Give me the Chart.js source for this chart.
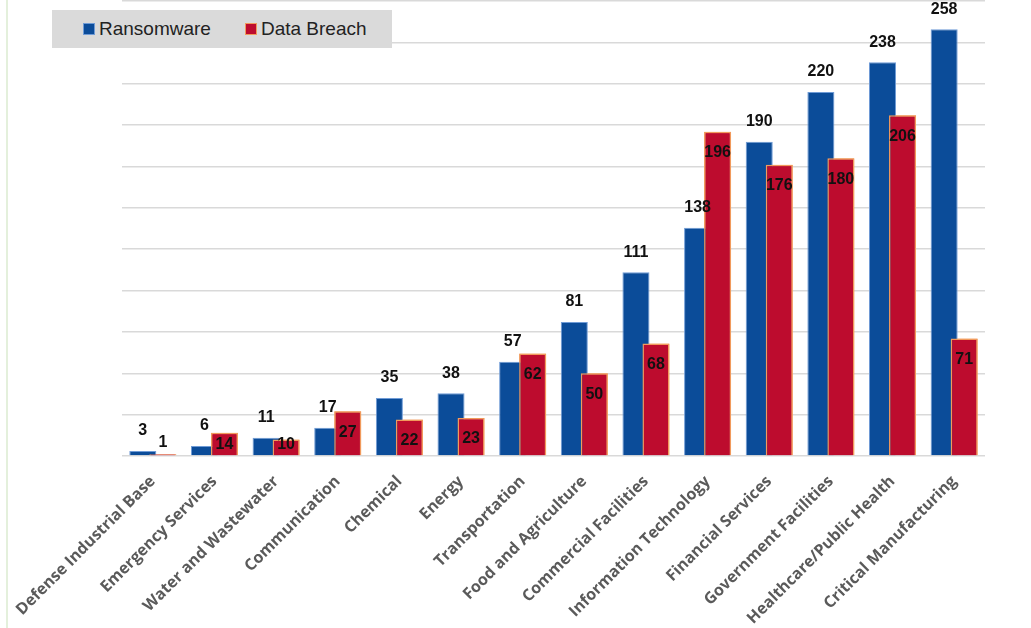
<!DOCTYPE html>
<html>
<head>
<meta charset="utf-8">
<script src="https://cdn.jsdelivr.net/npm/chart.js@4"></script>
<style>
    html, body { margin: 0; padding: 0; background: #ffffff; }
    #wrap { position: relative; width: 1031px; height: 628px; }
    #edge { position: absolute; left: 6px; top: 0; width: 2px; height: 628px; background: #e4f0dc; }
    #legend {
        position: absolute; left: 52px; top: 10px; width: 340px; height: 38px;
        background: #dadada; display: flex; align-items: center;
        font-family: "Liberation Sans", Arial, sans-serif; font-size: 19px; color: #222;
    }
    .item { display: flex; align-items: center; }
    .swatch { width: 12px; height: 12px; margin-right: 4px; box-sizing: border-box; }
</style>
</head>
<body>
<div id="wrap">
    <canvas id="chart" width="1031" height="628"></canvas>
    <div id="edge"></div>
    <div id="legend"></div>
</div>
<script>
// Chart data
const sectors = [
    'Defense Industrial Base', 'Emergency Services', 'Water and Wastewater', 'Communication',
    'Chemical', 'Energy', 'Transportation', 'Food and Agriculture', 'Commercial Facilities',
    'Information Technology', 'Financial Services', 'Government Facilities',
    'Healthcare/Public Health', 'Critical Manufacturing'
];
const ransomware = [3, 6, 11, 17, 35, 38, 57, 81, 111, 138, 190, 220, 238, 258];
const dataBreach = [1, 14, 10, 27, 22, 23, 62, 50, 68, 196, 176, 180, 206, 71];
const yMax = 275;
const yStep = 25;

const seriesStyle = [
    { name: 'Ransomware', fill: '#0b4c99', border: '#6f9bd6' },
    { name: 'Data Breach', fill: '#bd0c2e', border: '#f19a5c' }
];

// Build the HTML legend box
function buildLegend() {
    const legend = document.getElementById('legend');
    seriesStyle.forEach((s, i) => {
        const item = document.createElement('div');
        item.className = 'item';
        item.style.marginLeft = i === 0 ? '31px' : '34px';
        const sw = document.createElement('span');
        sw.className = 'swatch';
        sw.style.background = s.fill;
        sw.style.border = '1px solid ' + s.border;
        const txt = document.createElement('span');
        txt.textContent = s.name;
        item.appendChild(sw);
        item.appendChild(txt);
        legend.appendChild(item);
    });
}

// Red bars overlap the blue ones, so draw them again on top
const redOnTop = {
    id: 'redOnTop',
    afterDatasetsDraw(chart) {
        const meta = chart.getDatasetMeta(1);
        const ctx = chart.ctx;
        ctx.save();
        meta.controller.draw();
        ctx.restore();
    }
};

// Value labels: ransomware above, data breach inside the top end
const valueLabels = {
    id: 'valueLabels',
    afterDatasetsDraw(chart) {
        const ctx = chart.ctx;
        ctx.save();
        ctx.font = 'bold 16px "Liberation Sans", Arial, sans-serif';
        ctx.fillStyle = '#111111';
        ctx.textAlign = 'center';
        ctx.textBaseline = 'middle';
        chart.data.datasets.forEach((ds, di) => {
            const meta = chart.getDatasetMeta(di);
            meta.data.forEach((bar, i) => {
                const h = bar.base - bar.y;
                let y;
                if (di === 0) {
                    y = bar.y - 20;
                } else if (h < 6) {
                    y = bar.y - 12;
                } else {
                    y = Math.min(bar.y + 21, bar.base - 11);
                }
                ctx.fillText(String(ds.data[i]), bar.x, y);
            });
        });
        ctx.restore();
    }
};

function createChart() {
    const ctx = document.getElementById('chart').getContext('2d');
    new Chart(ctx, {
        type: 'bar',
        data: {
            labels: sectors,
            datasets: [
                {
                    label: seriesStyle[0].name,
                    data: ransomware,
                    backgroundColor: seriesStyle[0].fill,
                    borderColor: seriesStyle[0].border,
                    borderWidth: 1
                },
                {
                    label: seriesStyle[1].name,
                    data: dataBreach,
                    backgroundColor: seriesStyle[1].fill,
                    borderColor: seriesStyle[1].border,
                    borderWidth: 1.5
                }
            ]
        },
        options: {
            responsive: false,
            animation: false,
            categoryPercentage: 0.65,
            barPercentage: 1.35,
            layout: {
                padding: { left: 122, right: 46, top: 1, bottom: 0 }
            },
            plugins: {
                legend: { display: false },
                tooltip: { enabled: false }
            },
            scales: {
                x: {
                    grid: { display: false },
                    border: { display: false },
                    ticks: {
                        maxRotation: 45,
                        minRotation: 45,
                        color: '#5a5a5a',
                        padding: 8,
                        font: { family: '"Open Sans", sans-serif', size: 16, weight: 'bold' }
                    },
                    afterFit(scale) {
                        scale.height = 172;
                        scale.paddingLeft = 0;
                        scale.paddingRight = 0;
                    }
                },
                y: {
                    min: 0,
                    max: yMax,
                    ticks: { display: false, stepSize: yStep },
                    border: { display: false },
                    grid: { color: '#d9d9d9', lineWidth: 1.5, drawTicks: false },
                    afterFit(scale) {
                        scale.width = 0;
                    }
                }
            }
        },
        plugins: [redOnTop, valueLabels]
    });
}

buildLegend();
createChart();
</script>
</body>
</html>
